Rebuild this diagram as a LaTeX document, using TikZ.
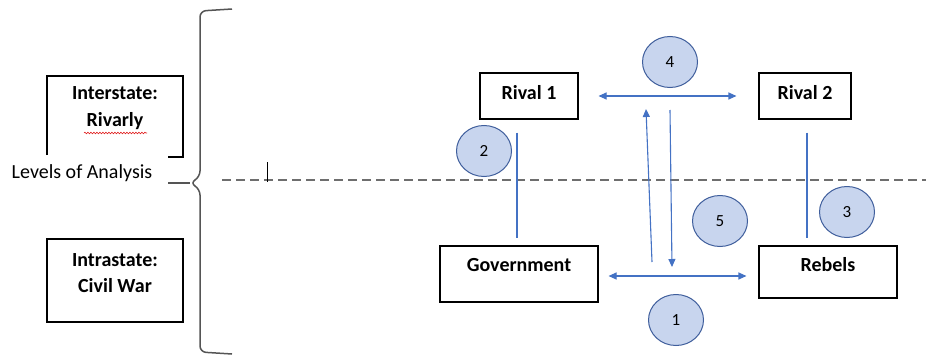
\documentclass[tikz,border=0pt]{standalone}
\usepackage{fontspec}
\setmainfont{Carlito}
\usetikzlibrary{arrows.meta,positioning,calc,shapes.geometric,decorations.pathmorphing}
\definecolor{LevelInk}{HTML}{000000}
\definecolor{LevelBrace}{HTML}{555555}
\definecolor{LevelDash}{HTML}{6E6E6E}
\definecolor{LevelBlue}{HTML}{4472C4}
\definecolor{LevelBubble}{HTML}{C8D5EE}
\definecolor{LevelRim}{HTML}{3F5E9C}
\definecolor{LevelSpell}{HTML}{E02020}
\tikzset{
  level text/.style={font=\fontsize{20}{26.5}\selectfont, text=LevelInk},
  level bold/.style={font=\bfseries\fontsize{20}{26.5}\selectfont, text=LevelInk},
  level frame/.style={draw=LevelInk, line width=1.1pt},
  level actor/.style={level frame, level bold, inner sep=0pt},
  level bubble/.style={ellipse, draw=LevelRim, fill=LevelBubble, line width=1pt,
    minimum width=55pt, minimum height=51pt, inner sep=0pt,
    font=\fontsize{17}{20}\selectfont, text=LevelInk},
  level link/.style={draw=LevelBlue, line width=1.1pt},
  level arrow/.style={level link, -{Triangle[length=8pt,width=7pt]}},
  level both/.style={level link, {Triangle[length=8pt,width=7pt]}-{Triangle[length=8pt,width=7pt]}},
  level brace/.style={draw=LevelBrace, line width=1.5pt, rounded corners=6pt},
  level divide/.style={draw=LevelDash, line width=1.6pt, dash pattern=on 9pt off 5pt},
  level spell/.style={draw=LevelSpell, line width=.6pt,
    decorate, decoration={snake, segment length=3pt, amplitude=.8pt}},
}

\begin{document}
\begin{tikzpicture}[x=1pt,y=-1pt]
  \useasboundingbox (0,0) rectangle (926,356);

  % left: levels of analysis
  \draw[level frame] (47,155) -- (47,76) -- (183,76) -- (183,157) -- (168,157);
  \node[level bold, align=center] (inter) at (115,108) {Interstate:\\Rivarly};
  \draw[level spell] (84,133) -- (147,133);
  \draw[level frame] (47,239) rectangle (183,322);
  \node[level bold, align=center] (intra) at (115,273) {Intrastate:\\Civil War};
  \node[level text] (levels) at (82,173) {Levels of Analysis};

  % brace
  \draw[level brace] (232,9) -- (200,11) -- (200,177) -- (190,183) -- (200,189) -- (200,352) -- (232,354);
  \draw[LevelBrace, line width=2.2pt] (168,183) -- (190,183);

  % divide between the two levels
  \draw[level divide] (222,180) -- (926,180);
  \coordinate (tick top) at (267,162);
  \coordinate (tick foot) at (267,182);
  \draw[LevelInk, line width=.8pt] (tick top) -- (tick foot);

  % actors
  \node[level actor, minimum width=98pt, text height=26.5pt, text depth=19.5pt] (rival1) at (529,96) {Rival 1};
  \node[level actor, minimum width=92pt, text height=26.5pt, text depth=19.5pt] (rival2) at (805,96) {Rival 2};
  \node[level actor, minimum width=158pt, text height=25.5pt, text depth=30.5pt] (gov) at (519,274) {Government};
  \node[level actor, minimum width=138pt, text height=25.5pt, text depth=26.5pt] (rebels) at (828,272) {Rebels};

  % interactions
  \draw[level both, shorten <=20pt, shorten >=22pt] (rival1) -- (rival2);
  \draw[level both, shorten <=10pt, shorten >=12pt] ([yshift=-2pt]gov.east) -- ([yshift=-2pt]gov.east -| rebels.west);
  \draw[level link, shorten <=13pt, shorten >=7pt] ([xshift=-12pt]rival1.south) -- ([xshift=-2pt]gov.north);
  \draw[level link, shorten <=13pt, shorten >=7pt] ([xshift=2pt]rival2.south) -- ([xshift=-21pt]rebels.north);
  \coordinate (up foot) at (652,262);
  \coordinate (up head) at (646,109);
  \coordinate (down top) at (670,110);
  \coordinate (down head) at (672,267);
  \draw[level arrow] (up foot) -- (up head);
  \draw[level arrow] (down top) -- (down head);

  % numbered paths
  \node[level bubble] (n1) at (676,320) {1};
  \node[level bubble] (n2) at (484,151) {2};
  \node[level bubble] (n3) at (847,212) {3};
  \node[level bubble] (n4) at (670,62) {4};
  \node[level bubble] (n5) at (720,221) {5};
\end{tikzpicture}
\end{document}
